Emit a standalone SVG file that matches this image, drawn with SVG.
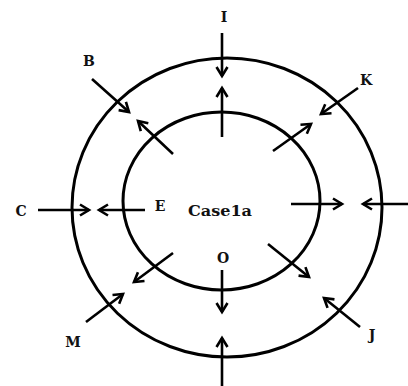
<svg xmlns="http://www.w3.org/2000/svg" width="408" height="386" viewBox="0 0 408 386">
<style>
.ring{fill:none;stroke:#000;stroke-width:3}
.arr{fill:none;stroke:#000;stroke-width:2.6;marker-end:url(#ah)}
.lbl{font-family:"DejaVu Serif","Liberation Serif",serif;font-weight:bold;font-size:14px;fill:#111;text-anchor:middle}
.title{font-family:"DejaVu Serif","Liberation Serif",serif;font-weight:bold;font-size:15px;fill:#111;text-anchor:middle}
</style>
<defs>
<marker id="ah" markerUnits="userSpaceOnUse" markerWidth="14" markerHeight="14" refX="0" refY="0" viewBox="-11 -7 14 14" orient="auto">
<path d="M-9,-5.5 L0,0 L-9,5.5" fill="none" stroke="#000" stroke-width="2.6"/>
</marker>
</defs>
<rect width="408" height="386" fill="#fff"/>
<g id="outer"><ellipse class="ring" cx="227" cy="207.5" rx="155" ry="149.5"/></g>
<g id="inner"><ellipse class="ring" cx="221.5" cy="201" rx="98.5" ry="89"/></g>
<g id="connectors">
<line class="arr" x1="222" y1="33" x2="222" y2="76"/>
<line class="arr" x1="222" y1="137" x2="222" y2="88"/>
<line class="arr" x1="92" y1="79" x2="129" y2="112"/>
<line class="arr" x1="173" y1="154" x2="138" y2="121"/>
<line class="arr" x1="358" y1="88" x2="321" y2="114"/>
<line class="arr" x1="273" y1="151" x2="311" y2="124"/>
<line class="arr" x1="38" y1="210" x2="89" y2="210"/>
<line class="arr" x1="145" y1="210" x2="99" y2="210"/>
<line class="arr" x1="291" y1="204" x2="342" y2="204"/>
<line class="arr" x1="408" y1="204" x2="363" y2="204"/>
<line class="arr" x1="86" y1="322" x2="123" y2="294"/>
<line class="arr" x1="173" y1="253" x2="134" y2="282"/>
<line class="arr" x1="360" y1="327" x2="324" y2="298"/>
<line class="arr" x1="268" y1="244" x2="309" y2="277"/>
<line class="arr" x1="222" y1="270" x2="222" y2="312"/>
<line class="arr" x1="222" y1="386" x2="222" y2="338"/>
</g>
<g id="label-I"><text class="lbl" x="224" y="22">I</text></g>
<g id="label-B"><text class="lbl" x="89" y="66">B</text></g>
<g id="label-K"><text class="lbl" x="366" y="85">K</text></g>
<g id="label-C"><text class="lbl" x="21" y="216">C</text></g>
<g id="label-E"><text class="lbl" x="160" y="211">E</text></g>
<g id="label-case"><text class="title" x="220" y="216" textLength="64" lengthAdjust="spacingAndGlyphs">Case1a</text></g>
<g id="label-O"><text class="lbl" x="223" y="263">O</text></g>
<g id="label-M"><text class="lbl" x="73" y="347">M</text></g>
<g id="label-J"><text class="lbl" x="372" y="340">J</text></g>
</svg>
